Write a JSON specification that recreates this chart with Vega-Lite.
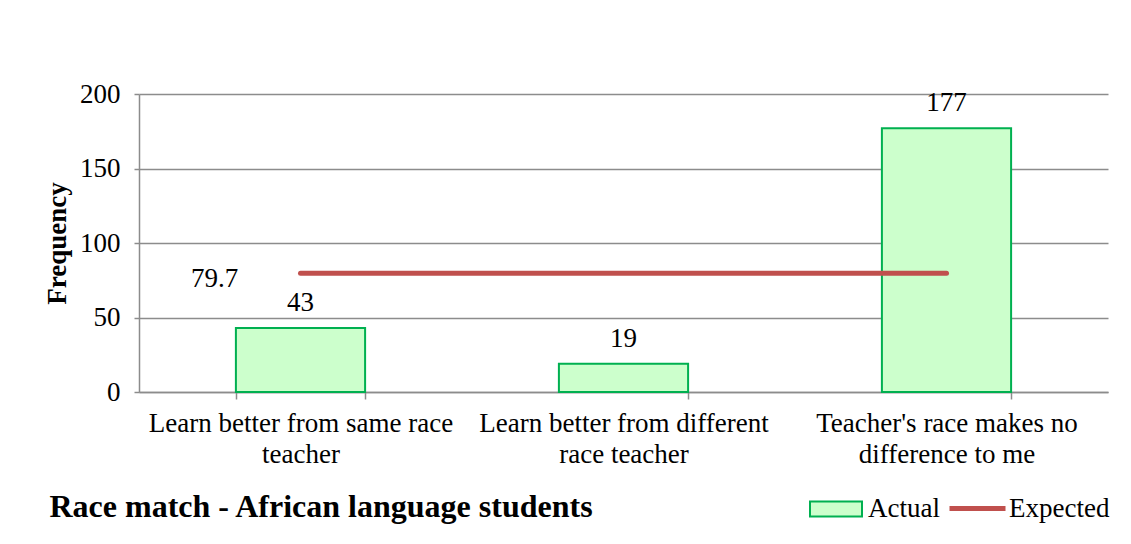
{
  "$schema": "https://vega.github.io/schema/vega-lite/v6.json",
  "width": 969,
  "height": 298,
  "autosize": "none",
  "padding": {"left": 139, "top": 94, "right": 23, "bottom": 152},
  "background": "white",
  "config": {
    "font": "Liberation Serif",
    "view": {"stroke": null},
    "axis": {
      "labelFont": "Liberation Serif",
      "labelFontSize": 27,
      "labelColor": "black",
      "titleFont": "Liberation Serif",
      "titleColor": "black",
      "domainColor": "#8c8c8c",
      "domainWidth": 1.5,
      "tickColor": "#8c8c8c",
      "tickWidth": 1.5,
      "gridColor": "#8c8c8c",
      "gridWidth": 1.5
    },
    "legend": {
      "labelFont": "Liberation Serif",
      "labelFontSize": 27,
      "labelColor": "black"
    }
  },
  "title": {
    "text": "Race match - African language students",
    "orient": "bottom",
    "anchor": "start",
    "frame": "bounds",
    "font": "Liberation Serif",
    "fontSize": 32,
    "fontWeight": "bold",
    "color": "black",
    "offset": -30,
    "dx": 6
  },
  "data": {
    "values": [
      {"category": "Learn better from same race teacher", "actual": 43, "expected": 79.7},
      {"category": "Learn better from different race teacher", "actual": 19, "expected": 79.7},
      {"category": "Teacher's race makes no difference to me", "actual": 177, "expected": 79.7}
    ]
  },
  "encoding": {
    "x": {
      "field": "category",
      "type": "nominal",
      "sort": null,
      "scale": {"paddingInner": 0.6, "paddingOuter": 0.3},
      "axis": {
        "title": null,
        "labelAngle": 0,
        "tickBand": "extent",
        "tickSize": 7,
        "labelPadding": 11,
        "labelLineHeight": 31,
        "labelLimit": 400,
        "labelExpr": "datum.value == 'Learn better from same race teacher' ? ['Learn better from same race', 'teacher'] : datum.value == 'Learn better from different race teacher' ? ['Learn better from different', 'race teacher'] : datum.value == 'Teacher\\'s race makes no difference to me' ? ['Teacher\\'s race makes no', 'difference to me'] : ''"
      }
    }
  },
  "layer": [
    {
      "mark": {"type": "bar", "stroke": "#00B050", "strokeWidth": 2},
      "encoding": {
        "y": {
          "field": "actual",
          "type": "quantitative",
          "scale": {"domain": [0, 200]},
          "axis": {
            "title": "Frequency",
            "titleFontSize": 27,
            "titleFontWeight": "bold",
            "titlePadding": 8,
            "values": [0, 50, 100, 150, 200],
            "tickSize": 5,
            "labelPadding": 14,
            "grid": true
          }
        },
        "fill": {
          "datum": "Actual",
          "scale": {"domain": ["Actual"], "range": ["#CCFFCC"]},
          "legend": {
            "title": null,
            "orient": "none",
            "legendX": 670,
            "legendY": 388,
            "symbolType": "M-1,-0.29H1V0.29H-1Z",
            "symbolSize": 2704,
            "symbolStrokeColor": "#00B050",
            "symbolStrokeWidth": 2,
            "symbolOpacity": 1,
            "labelOffset": 5
          }
        }
      }
    },
    {
      "mark": {"type": "text", "baseline": "alphabetic", "dy": -17, "fontSize": 27, "color": "black"},
      "encoding": {
        "y": {"field": "actual", "type": "quantitative"},
        "text": {"field": "actual", "type": "quantitative"}
      }
    },
    {
      "mark": {"type": "line", "strokeWidth": 5, "strokeCap": "round"},
      "encoding": {
        "y": {"field": "expected", "type": "quantitative"},
        "stroke": {
          "datum": "Expected",
          "scale": {"domain": ["Expected"], "range": ["#C0504D"]},
          "legend": {
            "title": null,
            "orient": "none",
            "legendX": 808,
            "legendY": 384,
            "symbolType": "stroke",
            "symbolSize": 3136,
            "symbolStrokeWidth": 5,
            "labelOffset": 1
          }
        }
      }
    },
    {
      "transform": [{"filter": "datum.category == 'Learn better from same race teacher'"}],
      "mark": {"type": "text", "baseline": "alphabetic", "dx": -86, "dy": 14, "fontSize": 27, "color": "black"},
      "encoding": {
        "y": {"field": "expected", "type": "quantitative"},
        "text": {"field": "expected", "type": "quantitative", "format": ".1f"}
      }
    }
  ]
}
